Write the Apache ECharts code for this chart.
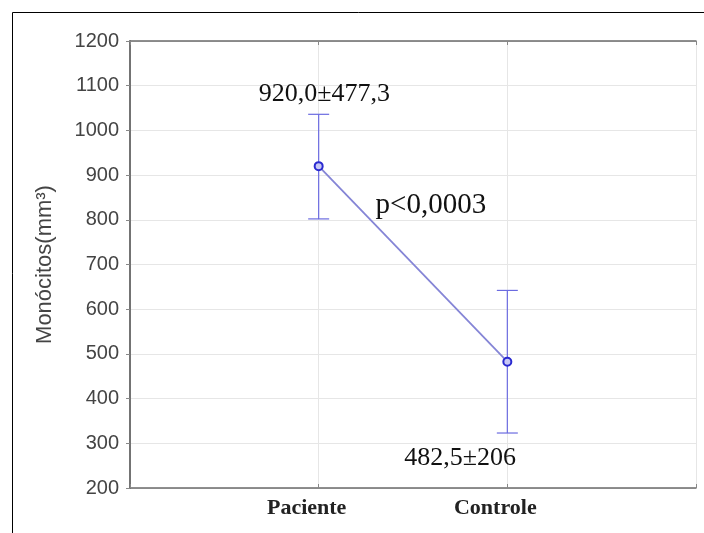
<!DOCTYPE html>
<html>
<head>
<meta charset="utf-8">
<script src="https://cdn.jsdelivr.net/npm/echarts@6/dist/echarts.min.js"></script>
<style>
html,body{margin:0;padding:0;background:#fff;}
#chart{width:704px;height:533px;}
</style>
</head>
<body>
<div id="chart"></div>
<script>
// dados
const groups = ['Paciente', 'Controle'];
const groupPos = [1, 2];
const means = [920, 482.5];
const lowerBar = [802, 323];
const upperBar = [1036, 642];
const annoText = ['920,0±477,3', 'p<0,0003', '482,5±206'];

let myChart = echarts.init(document.getElementById('chart'));

let line_data = [];
let err_data = [];
for (let i = 0; i < groups.length; i++) {
    line_data.push([groupPos[i], means[i]]);
    err_data.push([groupPos[i], lowerBar[i], upperBar[i]]);
}

let boxLine = {show: true, lineStyle: {color: '#6b6b6b', width: 1.5}};
let textStyle = {fontFamily: 'Liberation Serif', fontSize: 26, color: '#111'};

myChart.setOption({
    animation: false,
    graphic: [{     //外框
        type: 'rect',
        shape: {x: 12.5, y: 12.5, width: 800, height: 600},
        style: {fill: 'none', stroke: '#000', lineWidth: 1}
    }],
    grid: {left: 130, right: 8, top: 41, bottom: 45},
    xAxis: [
        {
            type: 'value', min: 0, max: 3, interval: 1,
            position: 'bottom',
            axisLine: boxLine,
            axisTick: {show: true, inside: true, length: 4, lineStyle: {color: '#888'}},
            axisLabel: {
                formatter: function (v) {
                    let k = groupPos.indexOf(v);
                    return k >= 0 ? groups[k] : '';
                },
                fontFamily: 'Liberation Serif', fontWeight: 'bold', fontSize: 22,
                color: '#222', margin: 9,
                padding: [0, 24, 0, 0]
            },
            splitLine: {show: true, lineStyle: {color: '#e6e6e6', width: 1}}
        },
        {
            type: 'value', min: 0, max: 3, interval: 1,
            position: 'top',
            axisLine: boxLine,
            axisTick: {show: true, inside: true, length: 4, lineStyle: {color: '#888'}},
            axisLabel: {show: false},
            splitLine: {show: false}
        }
    ],
    yAxis: [
        {
            type: 'value', min: 200, max: 1200, interval: 100,
            name: 'Monócitos(mm³)',
            nameLocation: 'middle',
            nameGap: 74,
            nameTextStyle: {fontFamily: 'Liberation Sans', fontSize: 22, color: '#444'},
            axisLine: boxLine,
            axisTick: {show: true, length: 3, lineStyle: {color: '#999'}},
            axisLabel: {
                formatter: function (v) { return String(v); },
                fontFamily: 'Liberation Sans', fontSize: 20, color: '#444', margin: 11
            },
            splitLine: {show: true, lineStyle: {color: '#e6e6e6', width: 1}}
        },
        {
            type: 'value', min: 200, max: 1200, interval: 100,
            position: 'right',
            axisLine: boxLine,
            axisTick: {show: true, inside: true, length: 4, lineStyle: {color: '#888'}},
            axisLabel: {show: false},
            splitLine: {show: false}
        }
    ],
    series: [
        {
            // barras de erro
            type: 'custom',
            z: 2,
            data: err_data,
            renderItem: function (params, api) {
                let x = api.value(0);
                let lo = api.coord([x, api.value(1)]);
                let hi = api.coord([x, api.value(2)]);
                let w = 10.5;
                let st = {stroke: '#6b6be0', lineWidth: 1.2};
                return {
                    type: 'group',
                    children: [
                        {type: 'line', shape: {x1: hi[0], y1: hi[1], x2: lo[0], y2: lo[1]}, style: st},
                        {type: 'line', shape: {x1: hi[0] - w, y1: hi[1], x2: hi[0] + w, y2: hi[1]}, style: st},
                        {type: 'line', shape: {x1: lo[0] - w, y1: lo[1], x2: lo[0] + w, y2: lo[1]}, style: st}
                    ]
                };
            }
        },
        {
            type: 'line',
            z: 3,
            data: line_data,
            symbol: 'circle',
            symbolSize: 8,
            lineStyle: {color: '#8585d6', width: 1.8},
            itemStyle: {color: '#c8c8f5', borderColor: '#2a2ad0', borderWidth: 2},
            markPoint: {
                symbol: 'circle',
                symbolSize: 0,
                label: {show: true, position: 'inside', formatter: '{b}', ...textStyle},
                data: [
                    {name: annoText[0], coord: [1.03, 1081]},
                    {name: annoText[1], coord: [1.595, 833], label: {fontSize: 29}},
                    {name: annoText[2], coord: [1.75, 267]}
                ]
            }
        }
    ]
});
</script>
</body>
</html>
